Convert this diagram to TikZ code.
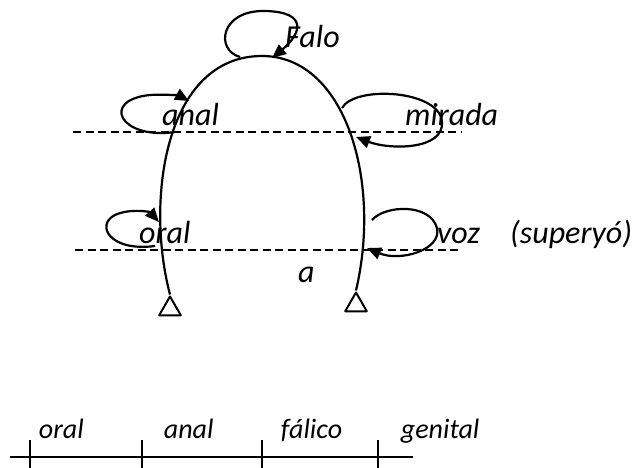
\documentclass[tikz,border=0pt]{standalone}
\usepackage{fontspec}
\setmainfont{Carlito}
\usetikzlibrary{arrows.meta,shapes.geometric}
\begin{document}
\begin{tikzpicture}[x=1pt,y=-1pt,line join=round,
		font=\fontsize{32}{34}\selectfont\itshape,
		lbl/.style={inner sep=0pt,anchor=base west},
		fase/.style={lbl,font=\fontsize{28}{30}\selectfont\itshape},
		pie/.style={draw,line width=2pt,regular polygon,regular polygon sides=3,minimum size=25pt,inner sep=0pt},
		lazo/.style={line width=2.2pt,-{Triangle[length=14pt,width=12pt]}},
		corte/.style={line width=1.9pt,dash pattern=on 8pt off 4.5pt}]
		\def\W{632} \def\H{468}
		\useasboundingbox (0,0) rectangle (\W,\H);
		% pies del arco
		\node[pie] (pieI) at (170,309) {};
		\node[pie] (pieD) at (356,305) {};
		\draw[line width=2.2pt] (pieI.corner 1) .. controls (145,200) and (165,56) .. (262,56)
			.. controls (345,56) and (382,180) .. (pieD.corner 1);
		% cortes
		\draw[corte] (73,132)--(462,132);
		\draw[corte] (75,250)--(462,250);
		% lazos
		\draw[lazo] (240,57) .. controls (215,50) and (220,10) .. (265,11) .. controls (310,12) and (300,35) .. (272,58);
		\draw[lazo] (175,132) .. controls (120,140) and (100,100) .. (150,95) .. controls (168,94) and (180,96) .. (189,101);
		\draw[lazo] (342,108) .. controls (355,85) and (440,90) .. (442,122) .. controls (444,150) and (390,150) .. (356,137);
		\draw[lazo] (155,246) .. controls (110,252) and (95,225) .. (115,215) .. controls (130,208) and (150,212) .. (159,222);
		\draw[lazo] (372,220) .. controls (385,205) and (430,203) .. (437,228) .. controls (442,250) and (400,262) .. (367,248);
		% textos
		\node[lbl] (falo) at (285,48) {Falo};
		\node[lbl] (anal) at (162,126) {anal};
		\node[lbl] (mirada) at (405,126) {mirada};
		\node[lbl] (oral) at (139,243) {oral};
		\node[lbl] (voz) at (437,243) {voz};
		\node[lbl] (super) at (510,243) {(superyó)};
		\node[lbl] (a) at (298,282) {a};
		% fases
		\draw[line width=1.9pt] (10,457)--(413,457);
		\foreach \x/\t/\f in {30/38/oral,142/163/anal,262/280/fálico,378/400/genital}
		\draw[line width=1.9pt] (\x,440)--(\x,468) node[fase] at (\t,438) {\f};
\end{tikzpicture}
\end{document}
